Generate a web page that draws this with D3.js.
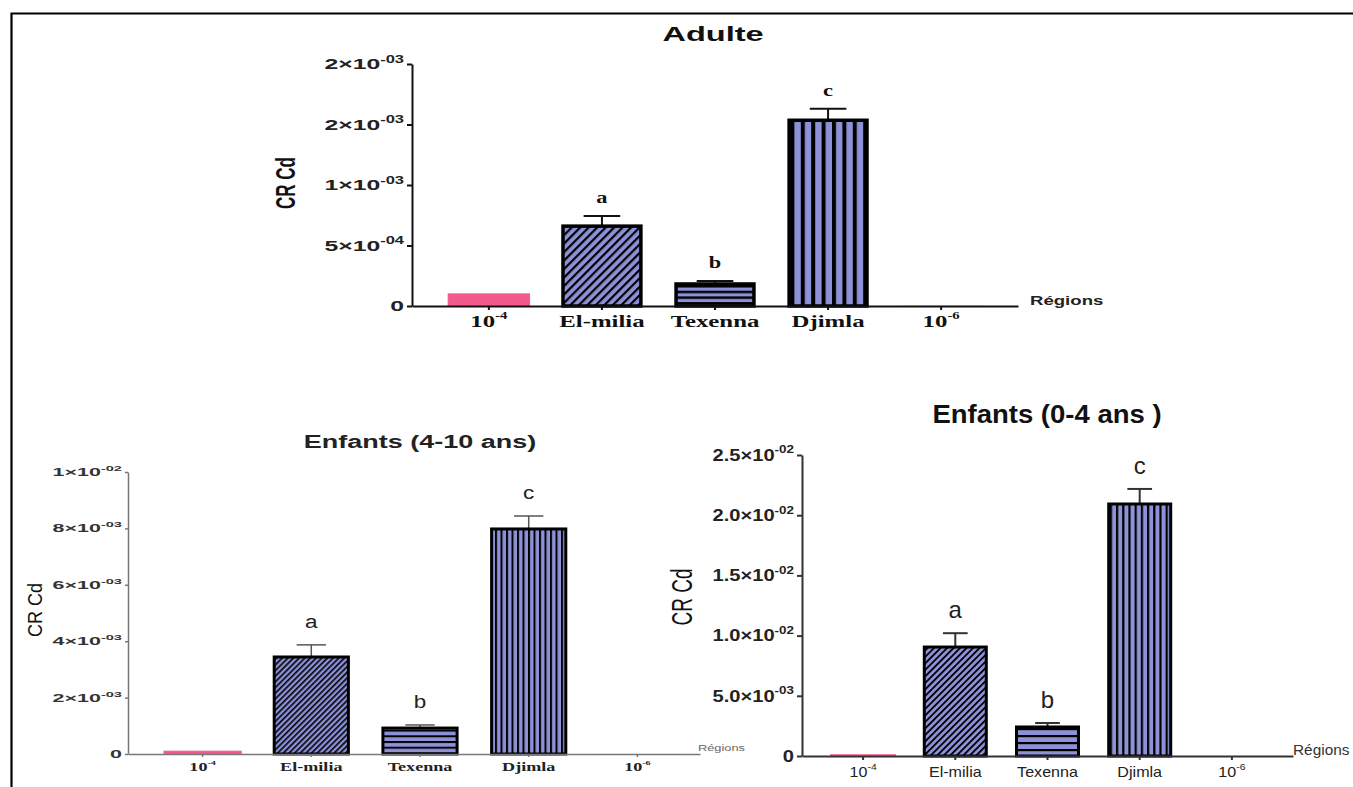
<!DOCTYPE html>
<html>
<head>
<meta charset="utf-8">
<script src="https://cdn.jsdelivr.net/npm/d3@7"></script>
<style>
  body { margin: 0; background: #fff; }
  svg { display: block; }
</style>
</head>
<body>
<svg id="fig" width="1353" height="787"></svg>
<script>
// ---- Data -------------------------------------------------------------
const regions = ["ref-4", "El-milia", "Texenna", "Djimla", "ref-6"];
const regionLabels = [["10", "-4"], ["El-milia", ""], ["Texenna", ""], ["Djimla", ""], ["10", "-6"]];
const barFills = ["pink", "diag", "horiz", "vert", "pink"];
const groupLetters = ["", "a", "b", "c", ""];

// Adulte
const adulteMean = [1e-4, 6.6e-4, 1.82e-4, 1.535e-3, 1e-6];
const adulteSem  = [0, 0.84e-4, 0.25e-4, 0.095e-3, 0];
const adulteTicks = [0, 5e-4, 1e-3, 1.5e-3, 2e-3];
const adulteTickLabels = [["0", ""], ["5×10", "-04"], ["1×10", "-03"], ["2×10", "-03"], ["2×10", "-03"]];

// Enfants (4-10 ans)
const enf410Mean = [1e-4, 3.44e-3, 0.92e-3, 7.98e-3, 1e-6];
const enf410Sem  = [0, 0.43e-3, 0.11e-3, 0.46e-3, 0];
const enf410Ticks = [0, 2e-3, 4e-3, 6e-3, 8e-3, 1e-2];
const enf410TickLabels = [["0", ""], ["2×10", "-03"], ["4×10", "-03"], ["6×10", "-03"], ["8×10", "-03"], ["1×10", "-02"]];

// Enfants (0-4 ans)
const enf04Mean = [1e-4, 9.05e-3, 2.41e-3, 2.093e-2, 1e-6];
const enf04Sem  = [0, 1.15e-3, 0.33e-3, 1.25e-3, 0];
const enf04Ticks = [0, 5e-3, 1e-2, 1.5e-2, 2e-2, 2.5e-2];
const enf04TickLabels = [["0", ""], ["5.0×10", "-03"], ["1.0×10", "-02"], ["1.5×10", "-02"], ["2.0×10", "-02"], ["2.5×10", "-02"]];

// ---- Styling ----------------------------------------------------------
const BLUE = "#8c91d8";
const PINK = "#f25a8c";
const SANS = "'Liberation Sans', Arial, sans-serif";
const SERIF = "'Liberation Serif', 'Times New Roman', serif";

const svg = d3.select("#fig");
const defs = svg.append("defs");

// page frame (top and left rules)
svg.append("path")
  .attr("d", "M11.5,787 V13.5 H1353")
  .attr("fill", "none").attr("stroke", "#000").attr("stroke-width", 2.2);

// horizontally stretched text with optional superscript
function stretchedText(parent, o, main, sup) {
  const g = parent.append("g")
    .attr("transform", `translate(${o.x},${o.y}) scale(${o.sx || 1},1)` + (o.rotate ? ` rotate(${o.rotate})` : ""));
  const t = g.append("text")
    .attr("text-anchor", o.anchor || "middle")
    .attr("font-family", o.family || SANS)
    .attr("font-size", o.size)
    .attr("font-weight", o.weight || "normal")
    .attr("fill", o.color || "#111");
  t.append("tspan").text(main);
  if (sup) t.append("tspan").attr("font-size", o.supSize).attr("dy", -o.size * 0.45).text(sup);
  return g;
}

function makePatterns(id, p) {
  const diag = defs.append("pattern").attr("id", `diag-${id}`)
    .attr("patternUnits", "userSpaceOnUse").attr("width", p.diag[0]).attr("height", p.diag[0])
    .attr("patternTransform", "rotate(45)");
  diag.append("rect").attr("width", p.diag[0]).attr("height", p.diag[0]).attr("fill", BLUE);
  diag.append("rect").attr("width", p.diag[1]).attr("height", p.diag[0]).attr("fill", "#000");

  const horiz = defs.append("pattern").attr("id", `horiz-${id}`)
    .attr("patternUnits", "userSpaceOnUse").attr("width", 10).attr("height", p.horiz[0]);
  horiz.append("rect").attr("width", 10).attr("height", p.horiz[0]).attr("fill", BLUE);
  horiz.append("rect").attr("width", 10).attr("height", p.horiz[1]).attr("fill", "#000");

  const vert = defs.append("pattern").attr("id", `vert-${id}`)
    .attr("patternUnits", "userSpaceOnUse").attr("width", p.vert[0]).attr("height", 10);
  vert.append("rect").attr("width", p.vert[0]).attr("height", 10).attr("fill", BLUE);
  vert.append("rect").attr("width", p.vert[1]).attr("height", 10).attr("fill", "#000");
}

const charts = [
  {
    id: "adulte", title: "Adulte", mean: adulteMean, sem: adulteSem,
    ticks: adulteTicks, tickLabels: adulteTickLabels,
    x0: 412, x1: 1018, y0: 306, yTop: 64,
    padIn: 0.28, padOut: 0.32, align: 0.5,
    axisColor: "#111", axisWidth: 2, yTickLen: 5, yTickPad: 3, xTickLen: 4,
    yLab: { size: 15, supSize: 10, weight: "bold", sx: 1.65, color: "#222" },
    xLab: { family: SERIF, size: 16, supSize: 9.5, weight: "bold", sx: 1.55, offset: 21, color: "#111" },
    titleStyle: { x: 713, y: 41, size: 21, weight: "bold", sx: 1.55, color: "#111" },
    axisTitle: { x: 295, y: 183, size: 17, weight: "bold", sx: 1.6, color: "#111" },
    regionsStyle: { x: 1030, y: 305, size: 12, weight: "bold", sx: 1.55, color: "#222" },
    letterStyle: { family: SERIF, size: 16, weight: "bold", sx: 1.4, gap: 13, color: "#111" },
    barStroke: 3.5, errWidth: 2, errColor: "#111", capFrac: 0.45,
    patterns: { diag: [6, 2.2], horiz: [5.7, 2.5], vert: [10.4, 4] }
  },
  {
    id: "enf410", title: "Enfants (4-10 ans)", mean: enf410Mean, sem: enf410Sem,
    ticks: enf410Ticks, tickLabels: enf410TickLabels,
    x0: 128, x1: 700, y0: 754, yTop: 472,
    padIn: 0.29, padOut: 0.276, align: 0.6,
    axisColor: "#777", axisWidth: 1.5, yTickLen: 3, yTickPad: 3, xTickLen: 3,
    yLab: { size: 11, supSize: 7.5, weight: "bold", sx: 1.95, color: "#333" },
    xLab: { family: SERIF, size: 12.5, supSize: 7, weight: "bold", sx: 1.45, offset: 17, color: "#222" },
    titleStyle: { x: 420, y: 448, size: 18.5, weight: "bold", sx: 1.46, color: "#222" },
    axisTitle: { x: 42, y: 610, size: 18, weight: "normal", sx: 1.1, color: "#111" },
    regionsStyle: { x: 698, y: 751, size: 9.5, weight: "normal", sx: 1.35, color: "#666", anchor: "start" },
    letterStyle: { family: SANS, size: 18, weight: "normal", sx: 1.25, gap: 17, color: "#222" },
    barStroke: 3, errWidth: 1.5, errColor: "#555", capFrac: 0.38,
    patterns: { diag: [4.0, 1.6], horiz: [5.7, 2], vert: [5.5, 2] }
  },
  {
    id: "enf04", title: "Enfants (0-4 ans )", mean: enf04Mean, sem: enf04Sem,
    ticks: enf04Ticks, tickLabels: enf04TickLabels,
    x0: 802, x1: 1293, y0: 756, yTop: 455,
    padIn: 0.295, padOut: 0.31, align: 0.5,
    axisColor: "#333", axisWidth: 2, yTickLen: 5, yTickPad: 3, xTickLen: 4,
    yLab: { size: 16.5, supSize: 11, weight: "bold", sx: 1.22, color: "#222" },
    xLab: { family: SANS, size: 14, supSize: 9, weight: "normal", sx: 1.15, offset: 21, color: "#222" },
    titleStyle: { x: 1047, y: 423, size: 25, weight: "bold", sx: 1.1, color: "#111" },
    axisTitle: { x: 692, y: 597, size: 19, weight: "normal", sx: 1.55, color: "#111" },
    regionsStyle: { x: 1293, y: 755, size: 14, weight: "normal", sx: 1.1, color: "#333", anchor: "start" },
    letterStyle: { family: SANS, size: 24, weight: "normal", sx: 1.0, gap: 15, color: "#222" },
    barStroke: 3, errWidth: 2, errColor: "#333", capFrac: 0.38,
    patterns: { diag: [4.6, 1.8], horiz: [7, 2.2], vert: [6.2, 2.2] }
  }
];

charts.forEach(c => {
  makePatterns(c.id, c.patterns);
  const g = svg.append("g").attr("class", `chart-${c.id}`);

  const x = d3.scaleBand().domain(regions).range([c.x0, c.x1])
    .paddingInner(c.padIn).paddingOuter(c.padOut).align(c.align);
  const y = d3.scaleLinear().domain([0, c.ticks[c.ticks.length - 1]]).range([c.y0, c.yTop]);
  const bw = x.bandwidth();

  const rows = regions.map((r, i) => ({
    r, i, v: c.mean[i], e: c.sem[i], fill: barFills[i], letter: groupLetters[i]
  }));

  // error bars (drawn first, bar outline covers their base)
  const errs = g.append("g").selectAll("g").data(rows.filter(d => d.e > 0)).join("g");
  errs.append("line")
    .attr("x1", d => x(d.r) + bw / 2).attr("x2", d => x(d.r) + bw / 2)
    .attr("y1", d => y(d.v)).attr("y2", d => y(d.v + d.e))
    .attr("stroke", c.errColor).attr("stroke-width", c.errWidth);
  errs.append("line")
    .attr("x1", d => x(d.r) + bw / 2 - bw * c.capFrac / 2)
    .attr("x2", d => x(d.r) + bw / 2 + bw * c.capFrac / 2)
    .attr("y1", d => y(d.v + d.e)).attr("y2", d => y(d.v + d.e))
    .attr("stroke", c.errColor).attr("stroke-width", c.errWidth);

  // bars
  g.append("g").selectAll("rect").data(rows).join("rect")
    .attr("x", d => x(d.r) + (d.fill === "pink" ? 0 : c.barStroke / 2))
    .attr("width", d => bw - (d.fill === "pink" ? 0 : c.barStroke))
    .attr("y", d => y(d.v))
    .attr("height", d => c.y0 - y(d.v))
    .attr("fill", d => d.fill === "pink" ? PINK : `url(#${d.fill}-${c.id})`)
    .attr("stroke", d => d.fill === "pink" ? PINK : "#000")
    .attr("stroke-width", d => d.fill === "pink" ? (d.v > 1e-5 ? 1 : 0) : c.barStroke);

  // group letters
  rows.filter(d => d.letter).forEach(d => {
    stretchedText(g, {
      x: x(d.r) + bw / 2, y: y(d.v + d.e) - c.letterStyle.gap,
      sx: c.letterStyle.sx, size: c.letterStyle.size, family: c.letterStyle.family,
      weight: c.letterStyle.weight, color: c.letterStyle.color
    }, d.letter);
  });

  // y axis
  const yAxis = d3.axisLeft(y).tickValues(c.ticks).tickSize(c.yTickLen).tickSizeOuter(0).tickFormat(() => "");
  const gy = g.append("g").attr("transform", `translate(${c.x0},0)`).call(yAxis);
  gy.select(".domain").attr("stroke", c.axisColor).attr("stroke-width", c.axisWidth);
  gy.selectAll(".tick line").attr("stroke", c.axisColor).attr("stroke-width", c.axisWidth);
  gy.selectAll(".tick text").each(function (d, i) {
    const t = d3.select(this);
    const lab = c.tickLabels[i];
    t.text(null)
      .attr("x", 0)
      .attr("transform", `translate(${-(c.yTickLen + c.yTickPad)},0) scale(${c.yLab.sx},1)`)
      .attr("font-family", SANS).attr("font-size", c.yLab.size)
      .attr("font-weight", c.yLab.weight).attr("fill", c.yLab.color)
      .attr("text-anchor", "end");
    t.append("tspan").text(lab[0]);
    if (lab[1]) t.append("tspan").attr("font-size", c.yLab.supSize).attr("dy", -c.yLab.size * 0.45).text(lab[1]);
  });

  // x axis
  const xAxis = d3.axisBottom(x).tickSize(c.xTickLen).tickSizeOuter(0).tickFormat(() => "");
  const gx = g.append("g").attr("transform", `translate(0,${c.y0})`).call(xAxis);
  gx.select(".domain").attr("stroke", c.axisColor).attr("stroke-width", c.axisWidth);
  gx.selectAll(".tick line").attr("stroke", c.axisColor).attr("stroke-width", c.axisWidth);
  gx.selectAll(".tick text").each(function (d, i) {
    const t = d3.select(this);
    const lab = regionLabels[i];
    t.text(null)
      .attr("y", 0).attr("dy", 0)
      .attr("transform", `translate(0,${c.xLab.offset}) scale(${c.xLab.sx},1)`)
      .attr("font-family", c.xLab.family).attr("font-size", c.xLab.size)
      .attr("font-weight", c.xLab.weight).attr("fill", c.xLab.color)
      .attr("text-anchor", "middle");
    t.append("tspan").text(lab[0]);
    if (lab[1]) t.append("tspan").attr("font-size", c.xLab.supSize).attr("dy", -c.xLab.size * 0.5).text(lab[1]);
  });

  // titles
  stretchedText(g, c.titleStyle, c.title);
  stretchedText(g, Object.assign({ rotate: -90 }, c.axisTitle), "CR Cd");
  stretchedText(g, Object.assign({ anchor: "start" }, c.regionsStyle), "Régions");
});
</script>
</body>
</html>
